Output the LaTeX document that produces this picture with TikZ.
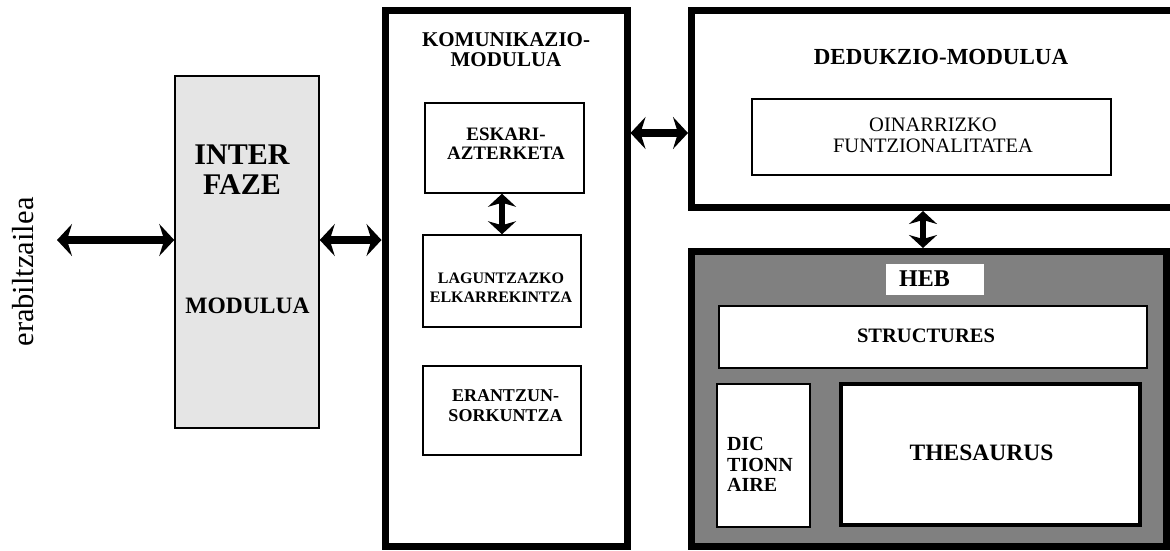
\documentclass[tikz,border=0pt]{standalone}
\usepackage{fontspec}
\setmainfont{Liberation Serif}
\usetikzlibrary{arrows.meta}
\begin{document}
\begin{tikzpicture}[x=1pt,y=-1pt,
  heavybox/.style={draw, line width=7pt, fill=white, inner sep=0pt},
  lightbox/.style={draw, line width=1.5pt, fill=white, inner sep=0pt},
  midbox/.style={draw, line width=2.2pt, fill=white, inner sep=0pt},
  txt/.style={inner sep=0pt, align=center, font=\bfseries},
  dblarrow/.style={line width=8.5pt, {Stealth[length=15pt,width=32pt,inset=5pt]}-{Stealth[length=15pt,width=32pt,inset=5pt]}},
  vdblarrow/.style={line width=6.5pt, {Stealth[length=13pt,width=28pt,inset=4pt]}-{Stealth[length=13pt,width=28pt,inset=4pt]}},
]
\useasboundingbox (0,0) rectangle (1170,550);
\clip (0,0) rectangle (1170,550);

% user side label
\node[inner sep=0pt, rotate=90, font=\fontsize{30.5pt}{31pt}\selectfont] (user) at (23,272) {erabiltzailea};
\coordinate (userend) at (57,240);

% interface module
\node[draw, line width=1.5pt, fill=black!10, inner sep=0pt,
      minimum width=144pt, minimum height=352pt] (iface) at (247,252) {};
\node[txt, font=\bfseries\fontsize{30pt}{30pt}\selectfont] (ifacetitle) at (242,170) {INTER\\FAZE};
\node[txt, font=\bfseries\fontsize{23.5pt}{24pt}\selectfont] (ifacemod) at (247.5,306) {MODULUA};

% communication module
\node[heavybox, minimum width=242pt, minimum height=536.5pt] (kom) at (506,278.25) {};
\node[txt, font=\bfseries\fontsize{21pt}{20pt}\selectfont] (komtitle) at (506,50) {KOMUNIKAZIO-\\MODULUA};
\node[lightbox, minimum width=159pt, minimum height=90pt] (eskari) at (504.5,148) {};
\node[txt, font=\bfseries\fontsize{19pt}{18.5pt}\selectfont] (eskaritxt) at (506,143.5) {ESKARI-\\AZTERKETA};
\node[lightbox, minimum width=158pt, minimum height=92pt] (lagun) at (502,281) {};
\node[txt, font=\bfseries\fontsize{16pt}{19pt}\selectfont] (laguntxt) at (501,287.5) {LAGUNTZAZKO\\ELKARREKINTZA};
\node[lightbox, minimum width=158pt, minimum height=89pt] (erantz) at (502,410.5) {};
\node[txt, font=\bfseries\fontsize{18pt}{20pt}\selectfont] (erantztxt) at (505.5,406) {ERANTZUN-\\SORKUNTZA};

% deduction module
\node[heavybox, minimum width=500pt, minimum height=197.5pt] (ded) at (941.5,108.75) {};
\node[txt, font=\bfseries\fontsize{23pt}{23pt}\selectfont] (dedtitle) at (941,56.5) {DEDUKZIO-MODULUA};
\node[midbox, minimum width=359pt, minimum height=76pt] (oin) at (931.5,137) {};
\node[txt, font=\fontsize{20.5pt}{21pt}\selectfont] (ointxt) at (933,135.5) {OINARRIZKO\\FUNTZIONALITATEA};

% lexical knowledge base
\node[draw, line width=7pt, fill=black!50, inner sep=0pt,
      minimum width=475pt, minimum height=295pt] (heb) at (929,399) {};
\node[fill=white, inner sep=0pt, minimum width=98pt, minimum height=31pt] (hebtag) at (935,279.5) {};
\node[txt, font=\bfseries\fontsize{24pt}{24pt}\selectfont] (hebtxt) at (924.5,278.5) {HEB};
\node[midbox, minimum width=428pt, minimum height=62pt] (struct) at (933,337) {};
\node[txt, font=\bfseries\fontsize{20.5pt}{21pt}\selectfont] (structtxt) at (926,336) {STRUCTURES};
\node[midbox, minimum width=93pt, minimum height=143pt] (dict) at (763.5,455.5) {};
\node[txt, align=left, anchor=west, font=\bfseries\fontsize{20pt}{20.5pt}\selectfont] (dicttxt) at (727,464.5) {DIC\\TIONN\\AIRE};
\node[draw, line width=4pt, fill=white, inner sep=0pt, minimum width=299pt, minimum height=141pt] (thes) at (990.5,454.5) {};
\node[txt, font=\bfseries\fontsize{23.5pt}{24pt}\selectfont] (thestxt) at (981.5,452.5) {THESAURUS};

% connectors
\coordinate (ifrow) at (350,240);
\coordinate (kdrow) at (660,133);
\coordinate (elcol) at (502,214);
\coordinate (dhcol) at (923,230);
\draw[dblarrow] (userend) -- (iface.west |- userend);
\draw[dblarrow] (iface.east |- ifrow) -- (kom.west |- ifrow);
\draw[dblarrow] (kom.east |- kdrow) -- (ded.west |- kdrow);
\draw[vdblarrow] (eskari.south -| elcol) -- (lagun.north -| elcol);
\draw[vdblarrow] (ded.south -| dhcol) -- (heb.north -| dhcol);
\end{tikzpicture}
\end{document}
